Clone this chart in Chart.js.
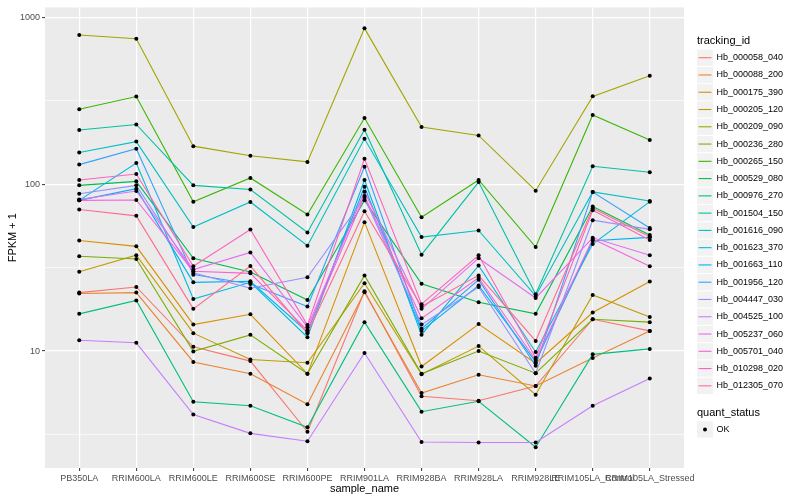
<!DOCTYPE html>
<html>
<head>
<meta charset="utf-8">
<script src="https://cdn.jsdelivr.net/npm/chart.js@4.4.1/dist/chart.umd.min.js"></script>
<style>
html, body { margin: 0; padding: 0; background: #fff; }
</style>
</head>
<body>
<canvas id="fpkm" width="800" height="500"></canvas>
<script>
const samples = ['PB350LA', 'RRIM600LA', 'RRIM600LE', 'RRIM600SE', 'RRIM600PE', 'RRIM901LA',
  'RRIM928BA', 'RRIM928LA', 'RRIM928LE', 'RRIM105LA_Control', 'RRIM105LA_Stressed'];

const trackingIds = ['Hb_000058_040', 'Hb_000088_200', 'Hb_000175_390', 'Hb_000205_120', 'Hb_000209_090',
  'Hb_000236_280', 'Hb_000265_150', 'Hb_000529_080', 'Hb_000976_270', 'Hb_001504_150',
  'Hb_001616_090', 'Hb_001623_370', 'Hb_001663_110', 'Hb_001956_120', 'Hb_004447_030',
  'Hb_004525_100', 'Hb_005237_060', 'Hb_005701_040', 'Hb_010298_020', 'Hb_012305_070'];

// ggplot hue palette, 20 levels
const seriesColors = ['#F8766D', '#EA8331', '#D89000', '#C09B00', '#A3A500', '#7CAE00', '#39B600',
  '#00BB4E', '#00BF7D', '#00C1A3', '#00BFC4', '#00BAE0', '#00B0F6', '#35A2FF', '#9590FF',
  '#C77CFF', '#E76BF3', '#FA62DB', '#FF62BC', '#FF6C91'];

// FPKM + 1, one value per sample
const hb_000058_040 = [22.4, 24.2, 10.6, 8.7, 3.28, 22.8, 5.35, 5.03, 6.17, 15.5, 13.2];
const hb_000088_200 = [22.1, 22.4, 8.6, 7.3, 4.79, 22.5, 5.6, 7.2, 6.17, 9.08, 13.2];
const hb_000175_390 = [46, 42.4, 14.4, 16.6, 7.3, 59.2, 8.07, 14.5, 8.45, 17.0, 26.1];
const hb_000205_120 = [29.9, 37.5, 12.8, 8.9, 8.5, 25.5, 7.25, 10.7, 5.47, 21.7, 16.0];
const hb_000209_090 = [783, 745, 169, 148, 136, 859, 220, 196, 91.4, 336, 447];
const hb_000236_280 = [37, 35.6, 9.95, 12.5, 7.3, 28.4, 7.3, 10.0, 7.36, 15.5, 14.9];
const hb_000265_150 = [281, 335, 78.5, 109, 65.8, 249, 63.4, 106, 42.0, 260, 184];
const hb_000529_080 = [98.4, 104, 36, 29.8, 20.2, 80, 25.3, 19.6, 16.7, 73.5, 49.6];
const hb_000976_270 = [16.7, 20.1, 4.97, 4.70, 3.49, 14.9, 4.33, 5.0, 2.65, 9.55, 10.3];
const hb_001504_150 = [211, 228, 98.4, 93, 51.4, 212, 37.8, 103, 21.9, 128, 118];
const hb_001616_090 = [155, 180, 55.3, 78.2, 42.8, 187, 48.2, 52.8, 21.4, 89.8, 79.2];
const hb_001623_370 = [80, 134, 20.5, 25.8, 12.1, 106, 12.5, 32.5, 9.86, 43.8, 78.6];
const hb_001663_110 = [80, 94, 25.8, 26.2, 13.0, 96.6, 13.2, 24.7, 8.6, 45.8, 48.0];
const hb_001956_120 = [131, 163, 28.7, 25.2, 18.5, 127, 13.6, 26.7, 8.15, 89.8, 54.6];
const hb_004447_030 = [87.7, 98.4, 29.4, 23.8, 27.7, 83, 14.4, 24.2, 7.36, 60.8, 53.6];
const hb_004525_100 = [11.6, 11.2, 4.16, 3.21, 2.88, 9.73, 2.85, 2.83, 2.83, 4.70, 6.84];
const hb_005237_060 = [81, 91, 30.8, 39.0, 13.9, 90.2, 17.9, 36, 20.8, 47.7, 37.5];
const hb_005701_040 = [80, 80.4, 30.1, 29.2, 13.3, 85, 15.7, 27.5, 8.84, 46.9, 32.2];
const hb_010298_020 = [106, 115, 32.2, 53.5, 14.3, 142, 19.1, 37.5, 9.12, 69.8, 46.3];
const hb_012305_070 = [70.5, 64.6, 17.9, 32.3, 12.8, 68.9, 18.5, 28.4, 11.5, 71.8, 48.4];

const series = [hb_000058_040, hb_000088_200, hb_000175_390, hb_000205_120, hb_000209_090,
  hb_000236_280, hb_000265_150, hb_000529_080, hb_000976_270, hb_001504_150,
  hb_001616_090, hb_001623_370, hb_001663_110, hb_001956_120, hb_004447_030,
  hb_004525_100, hb_005237_060, hb_005701_040, hb_010298_020, hb_012305_070];

const yLabels = [10, 100, 1000];
const yGrid = [Math.pow(10, 0.5), 10, Math.pow(10, 1.5), 100, Math.pow(10, 2.5), 1000];

const FONT = '"Liberation Sans", Arial, Helvetica, sans-serif';

const toPoints = vals => vals.map((v, j) => ({ x: j, y: v }));

// lines first (group 1 at the bottom), black points over everything
const lineSets = series.map((vals, i) => ({
  label: trackingIds[i],
  data: toPoints(vals),
  borderColor: seriesColors[i],
  borderWidth: 1.1,
  pointRadius: 0,
  fill: false,
  tension: 0,
  order: series.length - i + 1
}));
const pointSets = series.map((vals, i) => ({
  label: trackingIds[i] + ' OK',
  data: toPoints(vals),
  showLine: false,
  pointRadius: 2,
  pointBorderWidth: 0,
  pointBackgroundColor: '#000',
  order: 0
}));

const panelBg = {
  id: 'panelBg',
  beforeDraw(chart) {
    const { ctx, chartArea: a } = chart;
    ctx.save();
    ctx.fillStyle = '#EBEBEB';
    ctx.fillRect(a.left, a.top, a.right - a.left, a.bottom - a.top);
    ctx.restore();
  }
};

const ggLegend = {
  id: 'ggLegend',
  afterDraw(chart) {
    const ctx = chart.ctx;
    const x0 = 697;
    ctx.save();
    ctx.textBaseline = 'middle';
    ctx.textAlign = 'left';
    ctx.fillStyle = '#000';
    ctx.font = '11px ' + FONT;
    ctx.fillText('tracking_id', x0, 40.5);
    trackingIds.forEach((id, i) => {
      const cy = 57.7 + i * 17.27;
      ctx.fillStyle = '#F2F2F2';
      ctx.fillRect(x0, cy - 8.1, 16, 16.2);
      ctx.strokeStyle = seriesColors[i];
      ctx.lineWidth = 1.1;
      ctx.beginPath();
      ctx.moveTo(x0 + 1.5, cy);
      ctx.lineTo(x0 + 14.5, cy);
      ctx.stroke();
      ctx.fillStyle = '#000';
      ctx.font = '9px ' + FONT;
      ctx.fillText(id, 716.5, cy);
    });
    ctx.font = '11px ' + FONT;
    ctx.fillText('quant_status', x0, 412.5);
    ctx.fillStyle = '#F2F2F2';
    ctx.fillRect(x0, 421.3, 16, 16.2);
    ctx.fillStyle = '#000';
    ctx.beginPath();
    ctx.arc(x0 + 8, 429.4, 2, 0, Math.PI * 2);
    ctx.fill();
    ctx.font = '9px ' + FONT;
    ctx.fillText('OK', 716.5, 429.4);
    ctx.restore();
  }
};

new Chart(document.getElementById('fpkm').getContext('2d'), {
  type: 'line',
  data: { datasets: lineSets.concat(pointSets) },
  plugins: [panelBg, ggLegend],
  options: {
    responsive: false,
    animation: false,
    layout: { padding: { top: 5, right: 116, left: 0, bottom: 0 } },
    plugins: {
      legend: { display: false },
      tooltip: { enabled: false }
    },
    scales: {
      x: {
        type: 'linear',
        min: -0.6,
        max: 10.6,
        afterBuildTicks: s => { s.ticks = samples.map((_, i) => ({ value: i })); },
        afterFit: s => { s.height = 32; },
        ticks: {
          callback: v => samples[v],
          autoSkip: false,
          maxRotation: 0,
          minRotation: 0,
          padding: 2,
          color: '#4D4D4D',
          font: { size: 9, family: FONT }
        },
        grid: { color: '#fff', lineWidth: 1.2, tickColor: '#333', tickLength: 3, tickWidth: 1 },
        border: { display: false },
        title: {
          display: true, text: 'sample_name', color: '#000',
          font: { size: 11, family: FONT }, padding: { top: 0, bottom: 4 }
        }
      },
      y: {
        type: 'logarithmic',
        min: 1.99,
        max: 1147,
        afterBuildTicks: s => { s.ticks = yGrid.map(v => ({ value: v })); },
        afterFit: s => { s.width = 45; },
        ticks: {
          callback: v => yLabels.includes(v) ? String(v) : '',
          autoSkip: false,
          padding: 2,
          color: '#4D4D4D',
          font: { size: 9, family: FONT }
        },
        grid: {
          color: '#fff',
          lineWidth: c => yLabels.includes(c.tick.value) ? 1.2 : 0.6,
          tickColor: c => yLabels.includes(c.tick.value) ? '#333' : 'rgba(0,0,0,0)',
          tickLength: 3,
          tickWidth: 1
        },
        border: { display: false },
        title: {
          display: true, text: 'FPKM + 1', color: '#000',
          font: { size: 11, family: FONT }, padding: { top: 6, bottom: 0 }
        }
      }
    }
  }
});
</script>
</body>
</html>
